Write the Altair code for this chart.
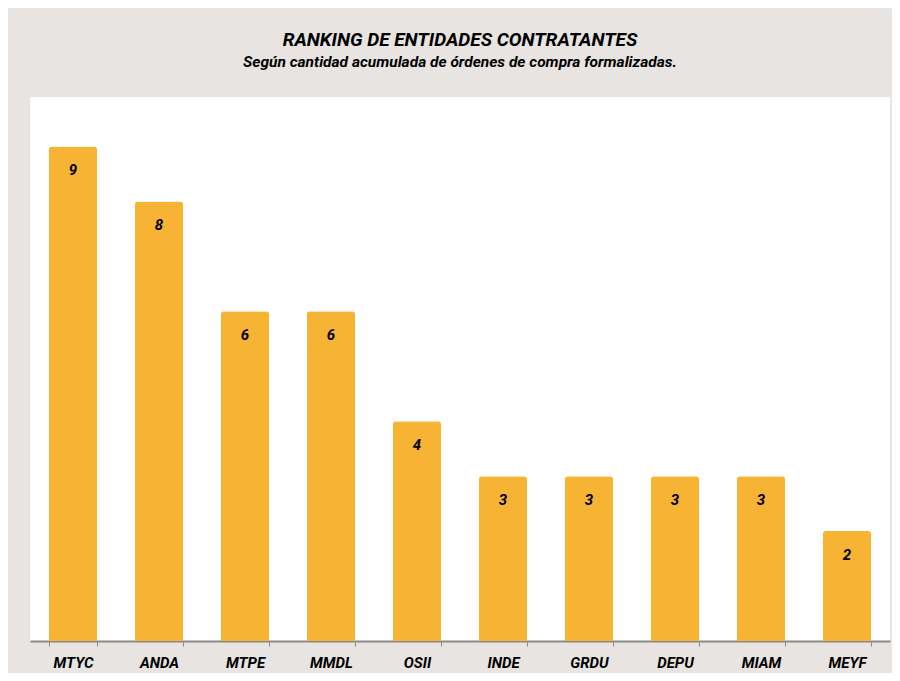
import altair as alt
import pandas as pd

entidades = ["MTYC", "ANDA", "MTPE", "MMDL", "OSII", "INDE", "GRDU", "DEPU", "MIAM", "MEYF"]
ordenes = [9, 8, 6, 6, 4, 3, 3, 3, 3, 2]

df = pd.DataFrame({"entidad": entidades, "ordenes": ordenes})

FONT = "Roboto"

base = alt.Chart(df).encode(
    x=alt.X("entidad:N", sort=entidades, title=None,
            scale=alt.Scale(paddingInner=0.44, paddingOuter=0.22),
            axis=alt.Axis(labelAngle=0, labelFont=FONT, labelFontSize=15,
                          labelFontWeight="bold", labelFontStyle="italic",
                          labelColor="#000000", labelPadding=9,
                          domainColor="#8a8a8a", domainWidth=2,
                          tickColor="#8a8a8a", tickSize=5, tickWidth=1,
                          tickBand="extent")),
    y=alt.Y("ordenes:Q", title=None, scale=alt.Scale(domain=[0, 9.9], nice=False),
            axis=None),
)

bars = base.mark_bar(color="#F7B334", cornerRadiusTopLeft=3, cornerRadiusTopRight=3)
labels = base.mark_text(dy=24, font=FONT, fontSize=15, fontWeight="bold",
                        fontStyle="italic", color="#000000").encode(text="ordenes:Q")

chart = (bars + labels).properties(
    width=860, height=544,
    title=alt.TitleParams(
        text="RANKING DE ENTIDADES  CONTRATANTES",
        subtitle="Según cantidad acumulada de órdenes de compra formalizadas.",
        font=FONT, fontSize=19, fontWeight="bold", fontStyle="italic", color="#000000",
        subtitleFont=FONT, subtitleFontSize=15.5, subtitleFontWeight="bold",
        subtitleFontStyle="italic", subtitleColor="#000000", subtitlePadding=5,
        anchor="middle", offset=27,
    ),
    autosize=alt.AutoSizeParams(type="none"),
    padding={"left": 22, "top": 89, "right": 2, "bottom": 32},
    background="#E8E4E1",
).configure_view(fill="#FFFFFF", stroke=None)

chart.save("out.html", embed_options={"renderer": "svg", "actions": False})
